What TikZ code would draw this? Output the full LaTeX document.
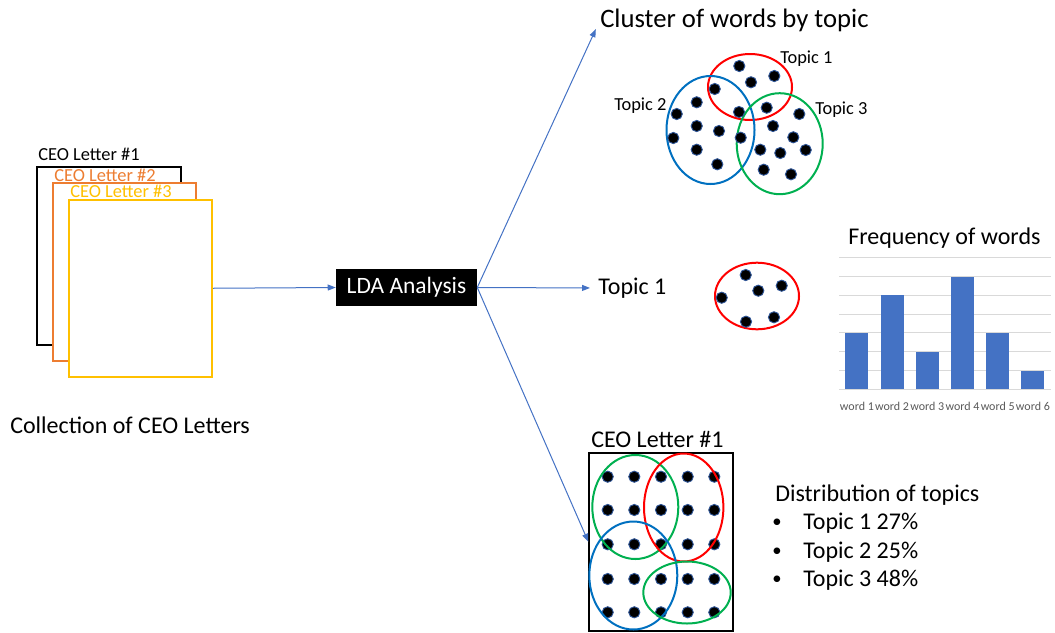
\documentclass[tikz,border=0pt]{standalone}
\usepackage{fontspec}
\setmainfont{Carlito}
\usetikzlibrary{arrows.meta,fit}
\definecolor{arrowblue}{HTML}{4472C4}
\definecolor{tblue}{HTML}{0070C0}
\definecolor{tred}{HTML}{FF0000}
\definecolor{tgreen}{HTML}{00B050}
\definecolor{lorange}{HTML}{ED7D31}
\definecolor{lgold}{HTML}{FFC000}
\definecolor{dotrim}{HTML}{2F5597}
\definecolor{gridgray}{HTML}{D9D9D9}
\definecolor{labgray}{HTML}{595959}
\begin{document}
\begin{tikzpicture}[x=0.75pt,y=-0.75pt,
  big/.style={font=\fontsize{18}{20}\selectfont, inner sep=0pt, anchor=west},
  title/.style={font=\fontsize{20}{22}\selectfont, inner sep=0pt, anchor=west},
  small/.style={font=\fontsize{13.8}{16}\selectfont, inner sep=0pt, anchor=west},
  lettlab/.style={small, anchor=base west, text height=9pt, text depth=0pt},
  wordlab/.style={font=\fontsize{9}{10}\selectfont, text=labgray, inner sep=0pt},
  flow/.style={draw=arrowblue, line width=0.75pt, -{Triangle[length=6pt,width=4.5pt]}},
  topicline/.style={line width=1.5pt},
  worddot/.style={fill=black,draw=dotrim,line width=0.7pt},
  letterbox/.style={inner sep=0pt, line width=1.5pt, fill=white}
]
\useasboundingbox (0,0) rectangle (1055,632);

% --- collection of letters ---
\node[letterbox, draw=black, fit={(37,167) (181,345)}] (l1) {};
\node[lettlab] (l1t) at (38,160) {CEO Letter \#1};
\node[letterbox, draw=lorange, fit={(53,183) (196,361)}] (l2) {};
\node[lettlab, text=lorange] (l2t) at (54,181) {CEO Letter \#2};
\node[letterbox, draw=lgold, fit={(69,199.5) (212,377)}] (l3) {};
\node[lettlab, text=lgold] (l3t) at (70,197.5) {CEO Letter \#3};
\node[big] (coll) at (10,425) {Collection of CEO Letters};

% --- LDA ---
\node[fill=black, text=white, minimum width=105.75pt, minimum height=27.75pt, inner sep=0pt,
      font=\fontsize{17.6}{20}\selectfont] (lda) at (406.5,287.5) {LDA Analysis};
\draw[flow] (l3.east) -- (lda.west);

% --- targets ---
\node[title] (cluster) at (600,20) {Cluster of words by topic};
\node[big] (topic1) at (598,288) {Topic 1};
\node[big] (lettertitle) at (591,439) {CEO Letter \#1};
\node[inner sep=0pt, line width=1.5pt, draw=black, fit={(589.3,452.7) (733.3,630.7)}] (letter) {};

\draw[flow, shorten >=7.5pt] (lda.east) -- (cluster.west);
\draw[flow, shorten >=6pt] (lda.east) -- (topic1.west);
\draw[flow] (lda.east) -- (letter.west);

% --- cluster of words ---
\draw[topicline, tred] (750,87) ellipse (42 and 33);
\draw[topicline, tblue] (710.5,130) ellipse (44 and 54);
\draw[topicline, tgreen] (779.7,143.7) ellipse (43 and 50.5);
\foreach \p in {(739.3,66),(774.3,76),(751,82.3),(714.7,89),(696.7,102.3),(676.7,114),(739,112),(766.7,107.7),(799.3,114),(696.7,126),(719,131),(673.3,138),(740.7,137.7),(773,126),(793.3,137.3),(760.3,149.7),(780.3,153),(805.7,150),(696.7,149.7),(717.3,164.3),(763.7,169.7),(791,174.3)}
  {\filldraw[worddot] \p circle (5.6);}
\node[small] (c1) at (780,59) {Topic 1};
\node[small] (c2) at (614,106) {Topic 2};
\node[small] (c3) at (815,110) {Topic 3};

% --- topic 1 ---
\draw[topicline, tred] (757,296) ellipse (42 and 33.3);
\foreach \p in {(745.7,275),(781.7,285.7),(721.7,297.7),(758.3,290.7),(746,321.7),(774,317.3)}
  {\filldraw[worddot] \p circle (5.6);}

% --- bar chart ---
\node[big] (freq) at (848,238) {Frequency of words};
\foreach \k in {0,...,7}
  \draw[gridgray, line width=0.75pt] (839.3,{389.3-18.8*\k}) -- (1050.7,{389.3-18.8*\k});
\foreach \i/\h in {1/3,2/5,3/2,4/6,5/3,6/1}{
  \pgfmathsetmacro\cx{839.3+35.2*(\i-0.5)}
  \fill[arrowblue] ({\cx-11.5},389.3) rectangle ({\cx+11.5},{389.3-18.8*\h});
  \node[wordlab] (w\i) at (\cx,406) {word \i};
}

% --- letter with topics ---
\foreach \xx in {607.7,634.3,661,687.7,714.3}
  \foreach \yy in {476.7,510,544.3,579,612.3}
    {\filldraw[worddot] (\xx,\yy) circle (5.6);}
\draw[topicline, tgreen] (635.3,507) ellipse (43 and 52);
\draw[topicline, tred] (683.7,507.5) ellipse (39.7 and 54);
\draw[topicline, tblue] (633.3,575.5) ellipse (44 and 54);
\draw[topicline, tgreen] (687,592.5) ellipse (43.7 and 31);

% --- distribution ---
\node[big] (dist) at (775,495) {Distribution of topics};
\node[font=\fontsize{14}{16}\selectfont, inner sep=0pt] (b1) at (777,523) {•};
\node[big] (d1) at (803,523) {Topic 1 27\%};
\node[font=\fontsize{14}{16}\selectfont, inner sep=0pt] (b2) at (777,552) {•};
\node[big] (d2) at (803,552) {Topic 2 25\%};
\node[font=\fontsize{14}{16}\selectfont, inner sep=0pt] (b3) at (777,580) {•};
\node[big] (d3) at (803,580) {Topic 3 48\%};
\end{tikzpicture}
\end{document}
